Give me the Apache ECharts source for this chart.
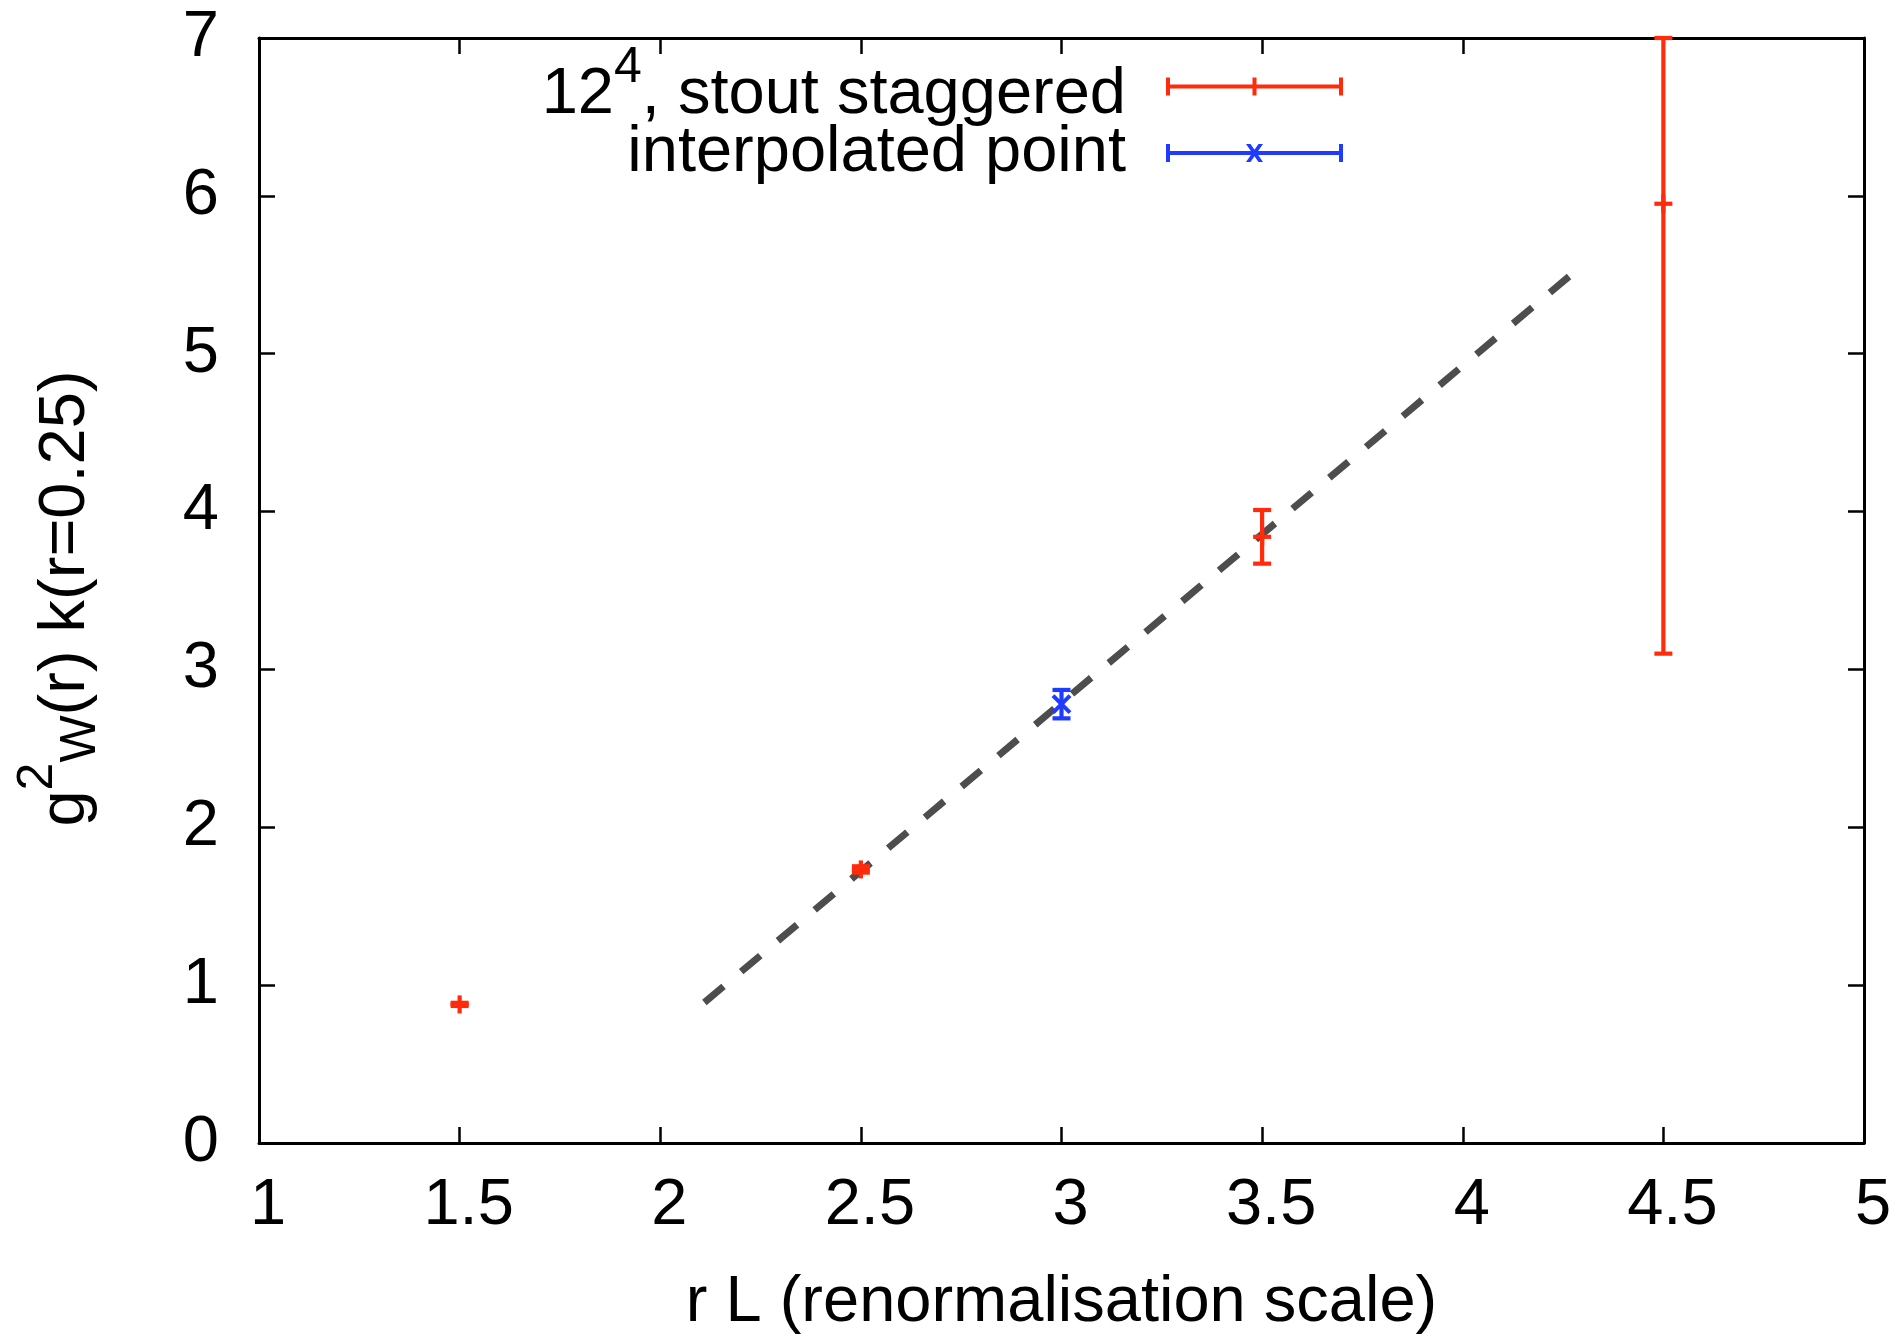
<!DOCTYPE html>
<html><head><meta charset="utf-8">
<script src="https://cdn.jsdelivr.net/npm/echarts@6/dist/echarts.min.js"></script>
<style>html,body{margin:0;padding:0;background:#fff}#c{width:1899px;height:1341px}</style>
</head><body><div id="c"></div>
<script>
// ---- data ----
const redX = [1.5, 2.5, 3.5, 4.5];
const redY = [0.878, 1.733, 3.84, 5.95];
const redErr = [0.01, 0.02, 0.17, 2.85];
const blueX = [3.0];
const blueY = [2.78];
const blueErr = [0.09];
const fitX = [2.11, 4.27];
const fitY = [0.89, 5.50];
const xMin = 1, xMax = 5, xStep = 0.5;
const yMin = 0, yMax = 7, yStep = 1;
const redName = '12^4, stout staggered';
const blueName = 'interpolated point';
const xTitle = 'r L (renormalisation scale)';

const FONT = 'Liberation Sans';
const RED = '#ff2b0a';
const BLUE = '#1f3bff';

function errRender(marker, color) {
  return function (params, api) {
    const x = api.value(0), y = api.value(1), e = api.value(2);
    const lo = Math.max(y - e, yMin), hi = Math.min(y + e, yMax);
    const pc = api.coord([x, y]);
    const pl = api.coord([x, lo]);
    const ph = api.coord([x, hi]);
    const st = { stroke: color, lineWidth: 4.2, fill: null };
    const cw = 9;
    const ch = [
      { type: 'line', shape: { x1: pl[0], y1: pl[1], x2: ph[0], y2: ph[1] }, style: st },
      { type: 'line', shape: { x1: pl[0] - cw, y1: pl[1], x2: pl[0] + cw, y2: pl[1] }, style: st },
      { type: 'line', shape: { x1: ph[0] - cw, y1: ph[1], x2: ph[0] + cw, y2: ph[1] }, style: st }
    ];
    if (marker === 'plus') {
      ch.push({ type: 'line', shape: { x1: pc[0] - 9, y1: pc[1], x2: pc[0] + 9, y2: pc[1] }, style: st });
      ch.push({ type: 'line', shape: { x1: pc[0], y1: pc[1] - 9, x2: pc[0], y2: pc[1] + 9 }, style: st });
    } else {
      const s = 8.5;
      const st2 = { stroke: color, lineWidth: 4, fill: null };
      ch.push({ type: 'line', shape: { x1: pc[0] - s, y1: pc[1] - s, x2: pc[0] + s, y2: pc[1] + s }, style: st2 });
      ch.push({ type: 'line', shape: { x1: pc[0] - s, y1: pc[1] + s, x2: pc[0] + s, y2: pc[1] - s }, style: st2 });
    }
    return { type: 'group', children: ch };
  };
}

const iconRed = 'path://M0 7H177V11H0Z M0 0H4V18H0Z M173 0H177V18H173Z M86.5 0H90.5V18H86.5Z';
const iconBlue = 'path://M0 7H177V11H0Z M0 0H4V18H0Z M173 0H177V18H173Z M80 0L84.5 0L97 18L92.5 18Z M92.5 0L97 0L84.5 18L80 18Z';

const axisCommon = {
  type: 'value', splitLine: { show: false },
  axisLine: { show: true, onZero: false, lineStyle: { color: '#000', width: 3 } },
  axisTick: { show: true, inside: true, length: 16, lineStyle: { color: '#000', width: 2.5 } }
};

const chart = echarts.init(document.getElementById('c'), null, { renderer: 'canvas' });
chart.setOption({
  animation: false,
  backgroundColor: '#fff',
  grid: { left: 259, right: 35, top: 38, bottom: 198 },
  xAxis: [
    Object.assign({}, axisCommon, {
      min: xMin, max: xMax, interval: xStep, position: 'bottom',
      axisLabel: { fontSize: 65, fontFamily: FONT, color: '#000', margin: 31, padding: [0, 0, 0, 18] },
      name: xTitle, nameLocation: 'middle', nameGap: 128,
      nameTextStyle: { fontSize: 65, fontFamily: FONT, color: '#000' }
    }),
    Object.assign({}, axisCommon, {
      min: xMin, max: xMax, interval: xStep, position: 'top', axisLabel: { show: false }
    })
  ],
  yAxis: [
    Object.assign({}, axisCommon, {
      min: yMin, max: yMax, interval: yStep, position: 'left',
      axisLabel: { fontSize: 65, fontFamily: FONT, color: '#000', margin: 40 },
      name: '{m|g}{sup|2}{sub|W}{m|(r) k(r=0.25)}', nameLocation: 'middle', nameGap: 160, nameRotate: 90,
      nameTextStyle: {
        fontSize: 65, fontFamily: FONT, color: '#000', padding: [0, 16, 0, 0],
        rich: {
          m: { fontSize: 65, fontFamily: FONT, color: '#000', lineHeight: 65 },
          sup: { fontSize: 50, fontFamily: FONT, color: '#000', lineHeight: 10, height: 9, verticalAlign: 'top' },
          sub: { fontSize: 50, fontFamily: FONT, color: '#000', lineHeight: 10, height: 35, verticalAlign: 'bottom' }
        }
      }
    }),
    Object.assign({}, axisCommon, {
      min: yMin, max: yMax, interval: yStep, position: 'right', axisLabel: { show: false }
    })
  ],
  legend: {
    orient: 'vertical', align: 'right', right: 556, top: 43, padding: 0, itemGap: -7,
    itemWidth: 177, itemHeight: 18, symbolKeepAspect: false,
    selectedMode: false,
    itemStyle: { borderWidth: 0 },
    formatter: function (n) {
      if (n === redName) return '{n|12}{s|4}{n|, stout staggered}';
      return '{m|' + n + '}';
    },
    textStyle: {
      fontSize: 65, fontFamily: FONT, color: '#000', padding: [0, 35, 0, 0],
      rich: {
        n: { fontSize: 65, fontFamily: FONT, color: '#000', lineHeight: 65, verticalAlign: 'bottom' },
        m: { fontSize: 65, fontFamily: FONT, color: '#000', lineHeight: 65 },
        s: { fontSize: 50, fontFamily: FONT, color: '#000', lineHeight: 82, height: 45, verticalAlign: 'top' }
      }
    },
    data: [
      { name: redName, icon: iconRed, itemStyle: { color: RED } },
      { name: blueName, icon: iconBlue, itemStyle: { color: BLUE } }
    ]
  },
  series: [
    {
      name: 'fit', type: 'line', z: 1, symbol: 'none', silent: true,
      data: fitX.map((x, i) => [x, fitY[i]]),
      lineStyle: { color: '#4d4d4d', width: 7, type: [25, 23], cap: 'butt' }
    },
    {
      name: redName, type: 'custom', z: 3, clip: false,
      itemStyle: { color: RED },
      encode: { x: 0, y: 1 },
      renderItem: errRender('plus', RED),
      data: redX.map((x, i) => [x, redY[i], redErr[i]])
    },
    {
      name: blueName, type: 'custom', z: 3, clip: false,
      itemStyle: { color: BLUE },
      encode: { x: 0, y: 1 },
      renderItem: errRender('cross', BLUE),
      data: blueX.map((x, i) => [x, blueY[i], blueErr[i]])
    }
  ]
});
</script></body></html>
